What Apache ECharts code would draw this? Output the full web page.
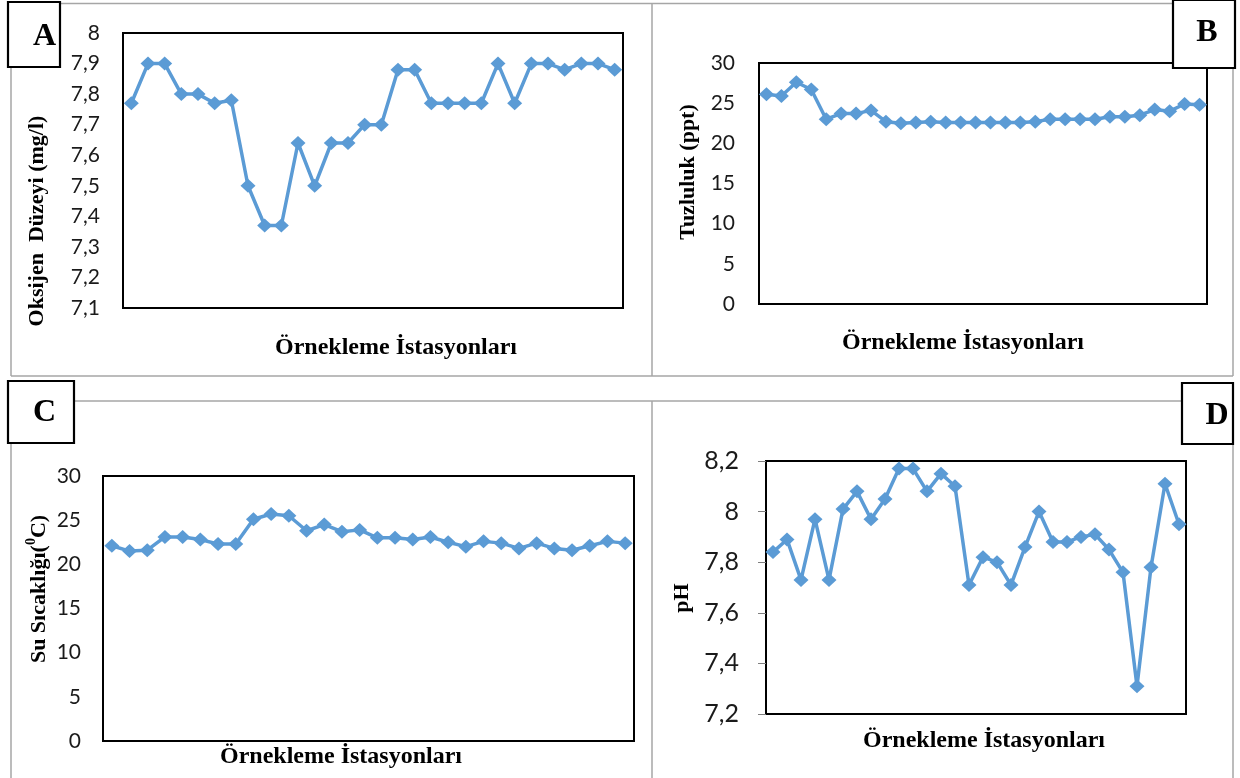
<!DOCTYPE html>
<html>
<head>
<meta charset="utf-8">
<script src="https://cdn.jsdelivr.net/npm/echarts@6/dist/echarts.min.js"></script>
<style>
html,body{margin:0;padding:0;background:#fff;}
#chart{width:1240px;height:778px;}
</style>
</head>
<body>
<div id="chart"></div>
<script>
// Stations (categories)
const stations = ["1","2","3","4","5","6","7","8","9","10","11","12","13","14","15","16","17","18","19","20","21","22","23","24","25","26","27","28","29","30"];

// A: Oksijen Düzeyi (mg/l)
const oxygen = [7.77,7.90,7.90,7.80,7.80,7.77,7.78,7.50,7.37,7.37,7.64,7.50,7.64,7.64,7.70,7.70,7.88,7.88,7.77,7.77,7.77,7.77,7.90,7.77,7.90,7.90,7.88,7.90,7.90,7.88];
// B: Tuzluluk (ppt)
const salinity = [26.1,25.9,27.6,26.7,23.0,23.7,23.7,24.1,22.7,22.5,22.6,22.7,22.6,22.6,22.6,22.6,22.6,22.6,22.7,23.0,23.0,23.0,23.0,23.3,23.3,23.5,24.2,24.0,24.9,24.8];
// C: Su Sıcaklığı (°C)
const temperature = [22.1,21.5,21.6,23.1,23.1,22.8,22.3,22.3,25.1,25.7,25.5,23.8,24.5,23.7,23.9,23.0,23.0,22.8,23.1,22.5,22.0,22.6,22.4,21.8,22.4,21.8,21.6,22.1,22.6,22.4];
// D: pH
const ph = [7.84,7.89,7.73,7.97,7.73,8.01,8.08,7.97,8.05,8.17,8.17,8.08,8.15,8.10,7.71,7.82,7.80,7.71,7.86,8.00,7.88,7.88,7.90,7.91,7.85,7.76,7.31,7.78,8.11,7.95];

// Tick labels (axis ranges)
const ticksA = [7.1,7.2,7.3,7.4,7.5,7.6,7.7,7.8,7.9,8];
const ticksB = [0,5,10,15,20,25,30];
const ticksC = [0,5,10,15,20,25,30];
const ticksD = [7.2,7.4,7.6,7.8,8,8.2];

const xTitle = "Örnekleme İstasyonları";
const yTitleA = "Oksijen  Düzeyi (mg/l)";
const yTitleB = "Tuzluluk (ppt)";
const yTitleD = "pH";

const LINE = '#5B9BD5';
const GRAY = '#a6a6a6';
const SERIF = '"Liberation Serif","Times New Roman",serif';
const SANS = 'Lato, "Noto Sans", sans-serif';

function fmt(v){ return String(Math.round(v*10)/10).replace('.', ','); }

function grid(left, top, width, height){
  return {left, top, width, height, show:true, borderColor:'#000', borderWidth:2, backgroundColor:'transparent', containLabel:false};
}
function xAx(i){
  return {type:'category', gridIndex:i, data:stations, boundaryGap:true,
    axisLine:{show:false}, axisTick:{show:false}, axisLabel:{show:false}, splitLine:{show:false}};
}
function yAx(i, ticks, fontSize, margin, showTick){
  const step = Math.round((ticks[1]-ticks[0])*1000)/1000;
  return {type:'value', gridIndex:i, min:ticks[0], max:ticks[ticks.length-1], interval:step,
    axisLine:{show:false}, splitLine:{show:false},
    axisTick:{show:!!showTick, length:8, lineStyle:{color:'#7f7f7f', width:1}},
    axisLabel:{formatter:fmt, fontFamily:SANS, fontSize:fontSize, color:'#1a1a1a', margin:margin}};
}
function ser(i, data){
  return {type:'line', xAxisIndex:i, yAxisIndex:i, data:data, symbol:'diamond', symbolSize:[15,14],
    showSymbol:true, showAllSymbol:true,
    lineStyle:{color:LINE, width:3.5}, itemStyle:{color:LINE}, animation:false, z:3};
}
function line(x1,y1,x2,y2,color,w){
  return {type:'line', shape:{x1,y1,x2,y2}, style:{stroke:color||GRAY, lineWidth:w||1.5}, z:50, silent:true};
}
function box(x,y,w,h){
  return {type:'rect', shape:{x,y,width:w,height:h}, style:{fill:'#fff', stroke:'#000', lineWidth:2.2}, z:60, silent:true};
}
function letter(t,x,y){
  return {type:'text', x, y, style:{text:t, font:'bold 32px '+SERIF, fill:'#000', align:'center', verticalAlign:'middle'}, z:61, silent:true};
}
function title(t,x,y,rot,size){
  return {type:'text', x, y, rotation: rot?Math.PI/2:0,
    style:{text:t, font:'bold '+(size||22)+'px '+SERIF, fill:'#000', align:'center', verticalAlign:'middle'}, z:55, silent:true};
}

const chart = echarts.init(document.getElementById('chart'), null, {renderer:'canvas'});
chart.setOption({
  backgroundColor:'#fff',
  animation:false,
  grid:[grid(123,33,500,275), grid(759,63,448,241), grid(103,476,531,265), grid(766,461,420,253)],
  xAxis:[xAx(0),xAx(1),xAx(2),xAx(3)],
  yAxis:[yAx(0,ticksA,21,23), yAx(1,ticksB,21,24), yAx(2,ticksC,21,22), yAx(3,ticksD,25,27,true)],
  series:[ser(0,oxygen), ser(1,salinity), ser(2,temperature), ser(3,ph)],
  graphic:[
    // panel frames
    line(60,3.5,652,3.5), line(11,67,11,376), line(11,376,652,376), line(652,3.5,652,376),
    line(652,3.5,1173,3.5), line(1233,68,1233,376), line(652,376,1233,376),
    line(74,401,652,401), line(11,443,11,778),
    line(652,401,1182,401), line(652,401,652,778), line(1233,444,1233,778),
    // label boxes
    box(8,2,52,65), letter('A',44.5,37),
    box(1173,0,62,68), letter('B',1207,33),
    box(8,381,66,62), letter('C',44.5,413),
    box(1182,383,51,61), letter('D',1217,416),
    // axis titles
    title(yTitleA,37,221,true), title(xTitle,396,348,false,24),
    title(yTitleB,688,172,true), title(xTitle,963,343,false,24),
    {type:'text', x:37, y:589, rotation:Math.PI/2, z:55, silent:true,
     style:{text:'{a|Su Sıcaklığı(}{s|0}{a|C)}', align:'center', verticalAlign:'middle', fill:'#000',
       rich:{a:{font:'bold 22px '+SERIF, fill:'#000', lineHeight:26, verticalAlign:'bottom'},
             s:{font:'bold 14px '+SERIF, fill:'#000', lineHeight:26, verticalAlign:'top'}}}},
    title(xTitle,341,757,false,24),
    title(yTitleD,682,598,true), title(xTitle,984,741,false,24)
  ]
});
</script>
</body>
</html>
